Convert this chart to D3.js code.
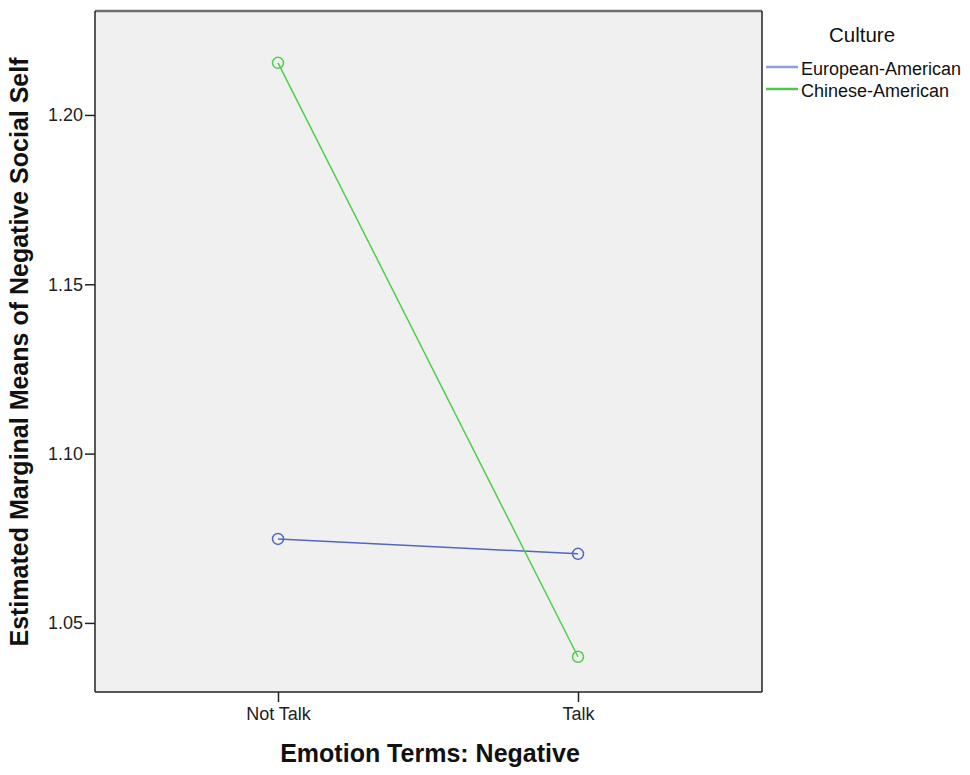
<!DOCTYPE html>
<html><head><meta charset="utf-8">
<script src="https://cdn.jsdelivr.net/npm/d3@7"></script>
<style>body{margin:0;background:#fff}svg{display:block}text{font-family:"Liberation Sans",Arial,sans-serif}</style>
</head><body><svg id="c" width="970" height="775"></svg>
<script>
const categories = ["Not Talk", "Talk"];
const seriesNames = ["European-American", "Chinese-American"];
const europeanValues = [1.0748, 1.0704];
const chineseValues = [1.2154, 1.0400];
const yTicks = [1.05, 1.10, 1.15, 1.20];
const lineColors = ["#5366c0", "#4ccf4c"];
const legendColors = ["#8fa0d4", "#4fc44f"];

const svg = d3.select("#c");
const L = 95, R = 762, T = 11, B = 692;
const x = d3.scalePoint().domain(categories).range([278, 578]);
const y = d3.scaleLinear().domain([1.0296, 1.2307]).range([B, T]);

svg.append("rect").attr("x", L).attr("y", T).attr("width", R - L).attr("height", B - T)
  .attr("fill", "#f0f0f0");
svg.append("line").attr("x1", L).attr("x2", R).attr("y1", T).attr("y2", T).attr("stroke", "#6e6e6e").attr("stroke-width", 2.5);
svg.append("line").attr("x1", R).attr("x2", R).attr("y1", T).attr("y2", B).attr("stroke", "#222").attr("stroke-width", 1.5);
svg.append("line").attr("x1", L).attr("x2", R).attr("y1", B).attr("y2", B).attr("stroke", "#222").attr("stroke-width", 1.5);
svg.append("line").attr("x1", L).attr("x2", L).attr("y1", T).attr("y2", B).attr("stroke", "#222").attr("stroke-width", 1.5);

const yAxis = svg.append("g").attr("transform", `translate(${L},0)`)
  .call(d3.axisLeft(y).tickValues(yTicks).tickFormat(d3.format(".2f")).tickSize(10).tickPadding(2));
yAxis.select(".domain").remove();
yAxis.attr("font-size", 18).attr("font-family", "Liberation Sans, Arial, sans-serif");
yAxis.selectAll("line").attr("stroke", "#222").attr("stroke-width", 1.5);
yAxis.selectAll("text").attr("fill", "#222");

const xAxis = svg.append("g").attr("transform", `translate(0,${B})`)
  .call(d3.axisBottom(x).tickSize(10).tickPadding(5));
xAxis.select(".domain").remove();
xAxis.attr("font-size", 18).attr("font-family", "Liberation Sans, Arial, sans-serif");
xAxis.selectAll("line").attr("stroke", "#222").attr("stroke-width", 1.5);
xAxis.selectAll("text").attr("fill", "#222");

const series = [europeanValues, chineseValues];
const line = d3.line().x((d, i) => x(categories[i])).y(d => y(d));
series.forEach((vals, si) => {
  svg.append("path").attr("d", line(vals)).attr("fill", "none")
    .attr("stroke", lineColors[si]).attr("stroke-width", 1.5);
  svg.selectAll(null).data(vals).enter().append("circle")
    .attr("cx", (d, i) => x(categories[i])).attr("cy", d => y(d)).attr("r", 5.5)
    .attr("fill", "none").attr("stroke", lineColors[si]).attr("stroke-width", 1.5);
});

svg.append("text").attr("x", 430).attr("y", 762).attr("text-anchor", "middle")
  .attr("font-size", 25).attr("font-weight", "bold").attr("fill", "#111").text("Emotion Terms: Negative");
svg.append("text").attr("transform", "translate(28,352) rotate(-90)").attr("text-anchor", "middle")
  .attr("font-size", 25).attr("font-weight", "bold").attr("fill", "#111")
  .text("Estimated Marginal Means of Negative Social Self");

svg.append("text").attr("x", 862).attr("y", 42).attr("text-anchor", "middle")
  .attr("font-size", 20.5).attr("fill", "#111").text("Culture");
seriesNames.forEach((n, i) => {
  const yy = 67 + i * 22;
  svg.append("line").attr("x1", 766).attr("x2", 798).attr("y1", yy).attr("y2", yy)
    .attr("stroke", legendColors[i]).attr("stroke-width", 2.5);
  svg.append("text").attr("x", 801).attr("y", yy + 8).attr("font-size", 18).attr("fill", "#111").text(n);
});
</script></body></html>
